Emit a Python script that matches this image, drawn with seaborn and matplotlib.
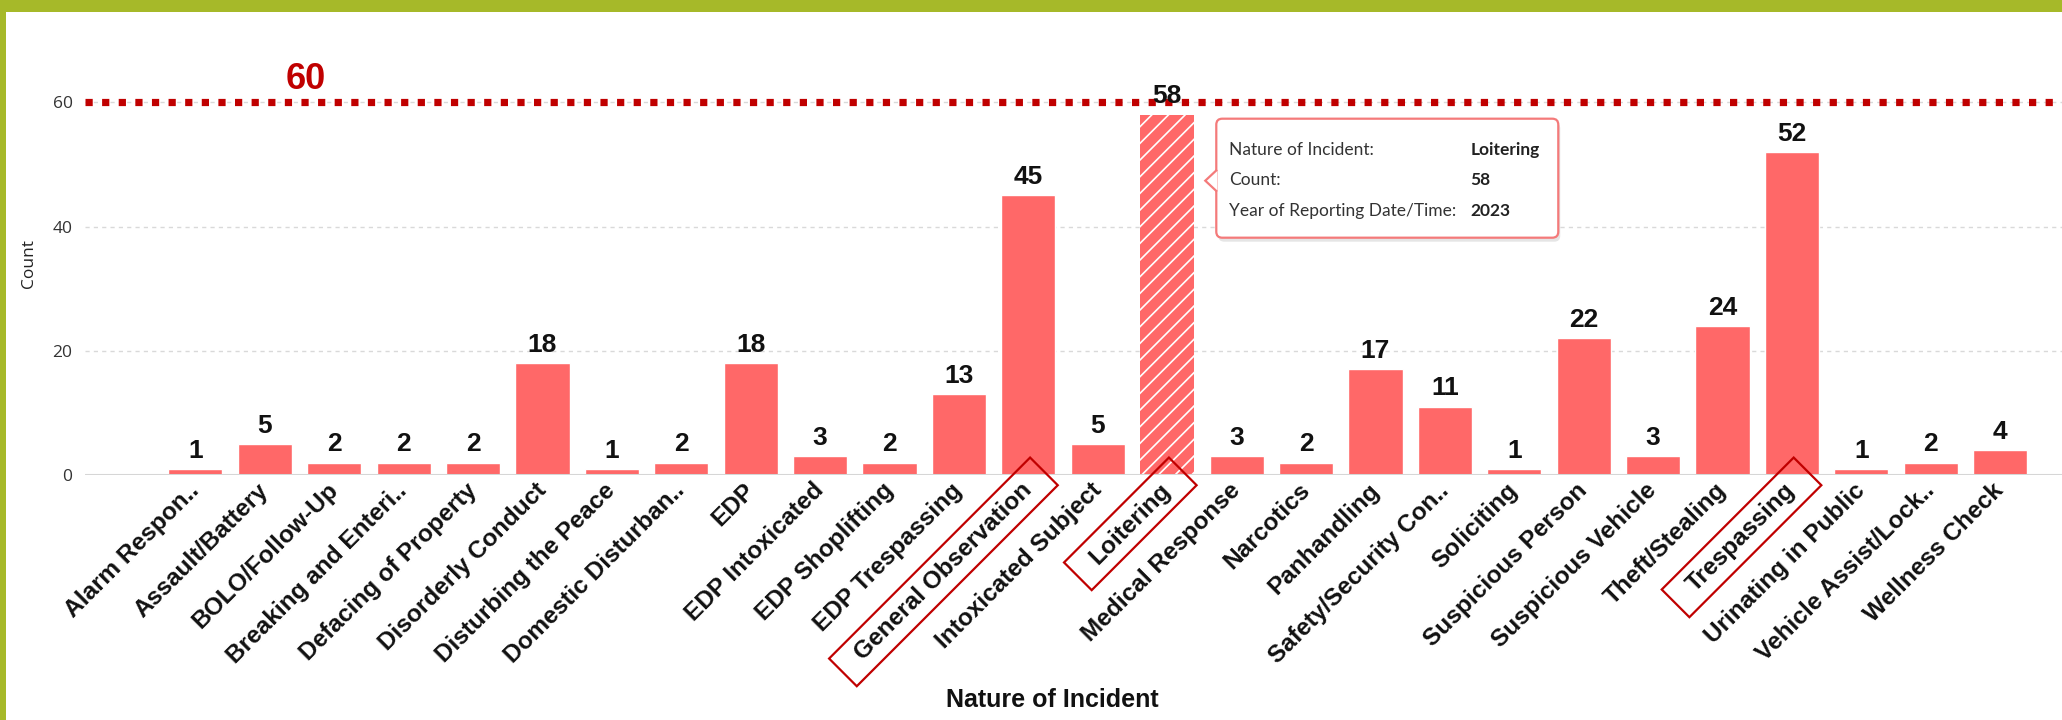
import matplotlib
matplotlib.use("Agg")
import matplotlib.pyplot as plt
from matplotlib.patches import Rectangle, FancyBboxPatch, Polygon
from matplotlib.path import Path
import seaborn as sns
import pandas as pd

# ---- data -------------------------------------------------------------
categories = [
    "Alarm Respon..", "Assault/Battery", "BOLO/Follow-Up", "Breaking and Enteri..",
    "Defacing of Property", "Disorderly Conduct", "Disturbing the Peace",
    "Domestic Disturban..", "EDP", "EDP Intoxicated", "EDP Shoplifting",
    "EDP Trespassing", "General Observation", "Intoxicated Subject", "Loitering",
    "Medical Response", "Narcotics", "Panhandling", "Safety/Security Con..",
    "Soliciting", "Suspicious Person", "Suspicious Vehicle", "Theft/Stealing",
    "Trespassing", "Urinating in Public", "Vehicle Assist/Lock..", "Wellness Check",
]
counts = [1, 5, 2, 2, 2, 18, 1, 2, 18, 3, 2, 13, 45, 5, 58, 3, 2, 17, 11, 1,
          22, 3, 24, 52, 1, 2, 4]
y_ticks = [0, 20, 40, 60]
reference_value = 60
highlighted = ["General Observation", "Loitering", "Trespassing"]
selected = "Loitering"
tooltip_rows = [("Nature of Incident:", "Loitering"),
                ("Count:", "58"),
                ("Year of Reporting Date/Time:", "2023")]

# ---- style ------------------------------------------------------------
BAR = "#ff6868"
RED = "#c00000"
GREEN = "#a6b929"
sns.set_style("white")
plt.rcParams["font.family"] = ["Liberation Sans", "DejaVu Sans"]
plt.rcParams["hatch.linewidth"] = 1.2


def label_frame(x0, y0, width, height, mutation_size):
    """Rectangle around a label, padded more along the text than across it."""
    px = 0.9 * mutation_size
    py = 0.33 * mutation_size
    verts = [(x0 - px, y0 - py), (x0 + width + px, y0 - py),
             (x0 + width + px, y0 + height + py), (x0 - px, y0 + height + py),
             (x0 - px, y0 - py)]
    return Path(verts, closed=True)


W, H = 2062, 720
fig = plt.figure(figsize=(W / 100, H / 100), dpi=100)
ax_left, ax_bottom, ax_h = 85, 245, 410
ax = fig.add_axes([ax_left / W, ax_bottom / H, 1 - ax_left / W, ax_h / H])

df = pd.DataFrame({"Nature of Incident": categories, "Count": counts})
sns.barplot(data=df, x="Nature of Incident", y="Count", color=BAR,
            width=0.78, saturation=1, ax=ax, zorder=3)

ax.set_xlim(-1.59, 26.89)
ax.set_ylim(0, 66)

# selected bar drawn with a diagonal hatch
bars = ax.patches
sel_idx = categories.index(selected)
sel_bar = bars[sel_idx]
sel_bar.set_hatch("//")
sel_bar.set_edgecolor("white")
sel_bar.set_linewidth(0)

# value labels on top of each bar
ax.bar_label(ax.containers[0], labels=[str(v) for v in counts], padding=4.5,
             fontsize=19, fontweight="bold", color="#111111", zorder=6)

# axes decoration
for s in ax.spines.values():
    s.set_visible(False)
ax.axhline(0, color="#d6d6d6", lw=2.2, zorder=4)
ax.set_yticks(y_ticks)
ax.yaxis.grid(True, linestyle=(0, (3, 3)), color="#d9d9d9", lw=1)
ax.xaxis.grid(False)
ax.set_axisbelow(True)
ax.xaxis.set_zorder(6)
ax.tick_params(axis="y", length=0, pad=9, labelsize=12.5, labelcolor="#333333")
for t in ax.get_yticklabels():
    t.set_fontfamily(["Open Sans", "DejaVu Sans"])
ax.tick_params(axis="x", length=0, pad=8.6)
ax.set_xticks(range(len(categories)))
ax.set_xticklabels(categories, rotation=45, ha="right", va="center",
                   rotation_mode="anchor", fontsize=17.6, fontweight="bold",
                   color="#111111")
for t in ax.get_xticklabels():
    if t.get_text() in highlighted:
        t.set_bbox(dict(boxstyle=label_frame, fc="none", ec=RED, lw=1.6))

ax.set_ylabel("Count", fontsize=12.5, color="#222222",
              family=["Open Sans", "DejaVu Sans"])
ax.yaxis.label.set_va("center")
ax.yaxis.set_label_coords((29 - ax_left) / (W - ax_left), (475 - 263) / ax_h)
ax.set_xlabel("Nature of Incident", fontsize=18, fontweight="bold",
              color="#111111")
ax.xaxis.label.set_va("center")
ax.xaxis.set_label_coords((1052 - ax_left) / (W - ax_left), (475 - 700) / ax_h)

# reference line with its value
ax.axhline(reference_value, color=RED, lw=5.2, linestyle=(0, (1, 1.3)),
           dash_capstyle="butt", zorder=5)
ax.annotate(str(reference_value), xy=(1.59, reference_value),
            xytext=(0, 9.4), textcoords="offset points", ha="center",
            va="baseline", fontsize=26, fontweight="bold", color=RED)

# tooltip for the selected bar (pixel coordinates from the bar's edge)
trans = ax.transData
bx = sel_bar.get_x() + sel_bar.get_width()
px, py = trans.transform((bx, sel_bar.get_height()))
py -= 66
box_l, box_w = px + 22, 342
box_top, box_bot = py + 62, py - 57
shadow = FancyBboxPatch((box_l + 2, box_bot - 4), box_w, box_top - box_bot,
                        boxstyle="round,pad=0,rounding_size=6",
                        transform=None, fc="#000000", ec="none", alpha=0.10,
                        zorder=20)
fig.patches.append(shadow)
box = FancyBboxPatch((box_l, box_bot), box_w, box_top - box_bot,
                     boxstyle="round,pad=0,rounding_size=6",
                     transform=None, fc="white", ec="#f47a7a", lw=1.6,
                     zorder=21)
fig.patches.append(box)
tri = Polygon([(box_l + 0.8, py + 11), (px + 11, py), (box_l + 0.8, py - 11)],
              closed=False, transform=None, fc="white", ec="#f47a7a", lw=1.6,
              zorder=22)
fig.patches.append(tri)
for i, (lab, val) in enumerate(tooltip_rows):
    ty = py + 31 - 30.5 * i
    fig.text(box_l + 13, ty, lab, transform=None, ha="left", va="center",
             fontsize=12.5, family=["Lato", "DejaVu Sans"], color="#333333",
             zorder=23)
    fig.text(box_l + 254, ty, val, transform=None, ha="left", va="center",
             fontsize=12.5, fontweight="bold", family=["Lato", "DejaVu Sans"],
             color="#222222", zorder=23)

# green frame along the top and left edges
fig.patches.append(Rectangle((0, 1 - 12 / H), 1, 12 / H, transform=fig.transFigure,
                             fc=GREEN, ec="none", zorder=30))
fig.patches.append(Rectangle((0, 0), 6 / W, 1, transform=fig.transFigure,
                             fc=GREEN, ec="none", zorder=30))

fig.savefig("out.png", dpi=100)
